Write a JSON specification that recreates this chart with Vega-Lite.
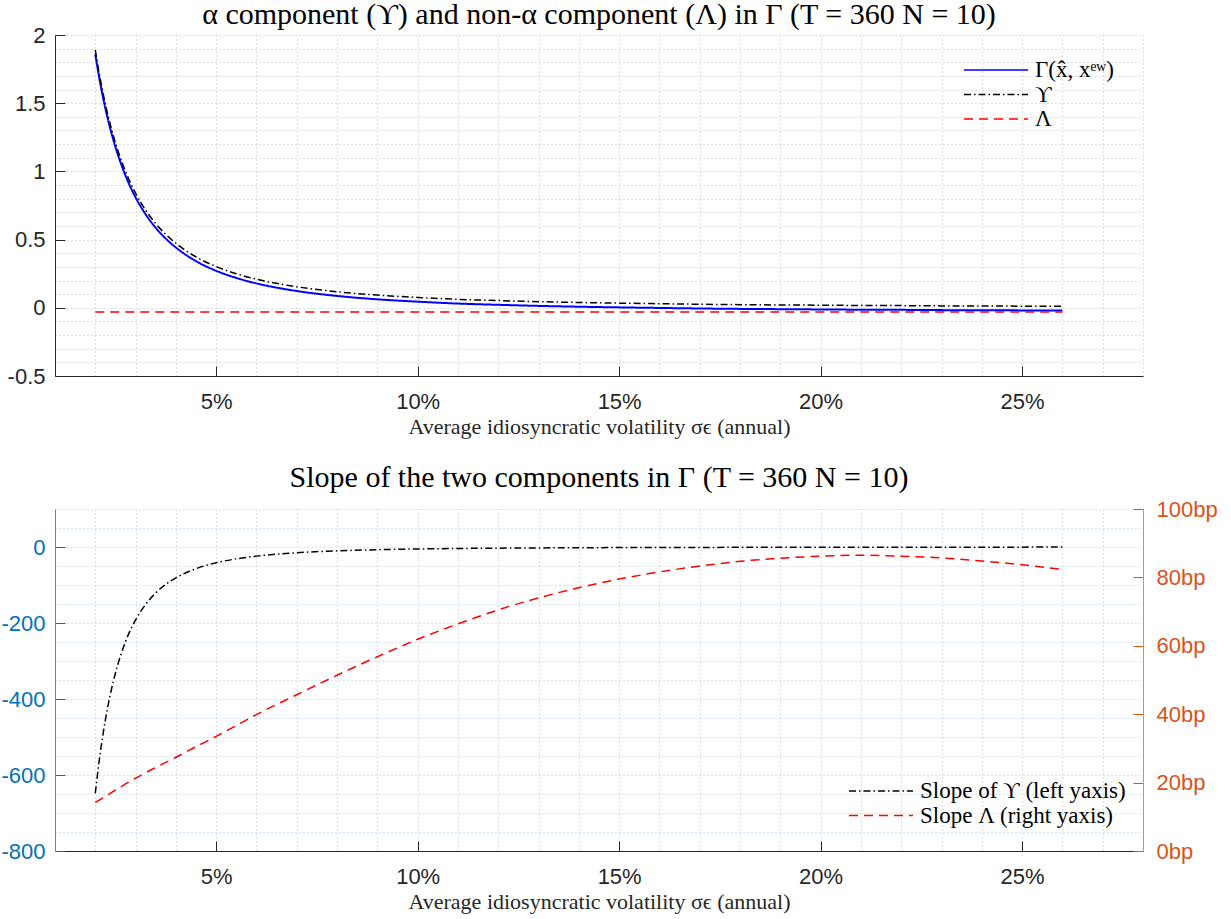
{
  "$schema": "https://vega.github.io/schema/vega-lite/v6.json",
  "background": "white",
  "padding": {"left": 0, "top": 0, "right": 5, "bottom": 5},
  "autosize": {"type": "pad"},
  "config": {
    "view": {"stroke": null},
    "title": {"font": "Liberation Serif", "fontSize": 30, "fontWeight": "normal", "color": "#000000", "anchor": "middle", "offset": 5},
    "axis": {"labelFont": "Liberation Sans", "labelFontSize": 22, "titleFont": "Liberation Serif", "titleFontSize": 22, "titleFontWeight": "normal", "titleColor": "#262626", "labelOverlap": false, "labelFlush": false},
    "legend": {"labelFont": "Liberation Serif", "labelFontSize": 23, "labelColor": "#000000", "labelLimit": 400, "symbolType": "stroke", "symbolStrokeWidth": 1.5, "padding": 0, "rowPadding": 1.5, "labelOffset": 6, "clipHeight": 20}
  },
  "datasets": {
    "d": [
      {"s": 2, "gamma": 1.859, "upsilon": 1.890, "lambda": -0.031, "slopeU": -648, "slopeL": 14.2},
      {"s": 2.1, "gamma": 1.683, "upsilon": 1.714, "lambda": -0.031, "slopeU": -560, "slopeL": 14.9},
      {"s": 2.2, "gamma": 1.531, "upsilon": 1.562, "lambda": -0.031, "slopeU": -487, "slopeL": 15.6},
      {"s": 2.3, "gamma": 1.398, "upsilon": 1.429, "lambda": -0.031, "slopeU": -426, "slopeL": 16.3},
      {"s": 2.4, "gamma": 1.282, "upsilon": 1.313, "lambda": -0.031, "slopeU": -375, "slopeL": 17.1},
      {"s": 2.5, "gamma": 1.179, "upsilon": 1.210, "lambda": -0.031, "slopeU": -332, "slopeL": 17.8},
      {"s": 2.75, "gamma": 0.969, "upsilon": 1.000, "lambda": -0.031, "slopeU": -249, "slopeL": 19.6},
      {"s": 3, "gamma": 0.809, "upsilon": 0.840, "lambda": -0.031, "slopeU": -192, "slopeL": 21.3},
      {"s": 3.25, "gamma": 0.685, "upsilon": 0.716, "lambda": -0.031, "slopeU": -151, "slopeL": 22.9},
      {"s": 3.5, "gamma": 0.586, "upsilon": 0.617, "lambda": -0.031, "slopeU": -121, "slopeL": 24.4},
      {"s": 3.75, "gamma": 0.507, "upsilon": 0.538, "lambda": -0.031, "slopeU": -98, "slopeL": 25.9},
      {"s": 4, "gamma": 0.442, "upsilon": 0.473, "lambda": -0.031, "slopeU": -81, "slopeL": 27.4},
      {"s": 4.5, "gamma": 0.342, "upsilon": 0.373, "lambda": -0.031, "slopeU": -57, "slopeL": 30.5},
      {"s": 5, "gamma": 0.271, "upsilon": 0.302, "lambda": -0.031, "slopeU": -41.5, "slopeL": 33.5},
      {"s": 5.5, "gamma": 0.219, "upsilon": 0.250, "lambda": -0.031, "slopeU": -31.2, "slopeL": 36.7},
      {"s": 6, "gamma": 0.179, "upsilon": 0.210, "lambda": -0.031, "slopeU": -24, "slopeL": 39.9},
      {"s": 7, "gamma": 0.123, "upsilon": 0.154, "lambda": -0.031, "slopeU": -15.1, "slopeL": 45.7},
      {"s": 8, "gamma": 0.087, "upsilon": 0.118, "lambda": -0.031, "slopeU": -10.1, "slopeL": 51.4},
      {"s": 9, "gamma": 0.062, "upsilon": 0.093, "lambda": -0.031, "slopeU": -7.1, "slopeL": 56.8},
      {"s": 10, "gamma": 0.045, "upsilon": 0.076, "lambda": -0.031, "slopeU": -5.2, "slopeL": 61.9},
      {"s": 11, "gamma": 0.031, "upsilon": 0.062, "lambda": -0.031, "slopeU": -3.9, "slopeL": 66.4},
      {"s": 12, "gamma": 0.022, "upsilon": 0.053, "lambda": -0.031, "slopeU": -3.0, "slopeL": 70.5},
      {"s": 13, "gamma": 0.014, "upsilon": 0.045, "lambda": -0.031, "slopeU": -2.4, "slopeL": 74.0},
      {"s": 14, "gamma": 0.008, "upsilon": 0.039, "lambda": -0.031, "slopeU": -1.9, "slopeL": 77.0},
      {"s": 15, "gamma": 0.003, "upsilon": 0.034, "lambda": -0.031, "slopeU": -1.5, "slopeL": 79.5},
      {"s": 16, "gamma": -0.001, "upsilon": 0.030, "lambda": -0.031, "slopeU": -1.3, "slopeL": 81.6},
      {"s": 17, "gamma": -0.005, "upsilon": 0.026, "lambda": -0.031, "slopeU": -1.1, "slopeL": 83.3},
      {"s": 18, "gamma": -0.008, "upsilon": 0.023, "lambda": -0.031, "slopeU": -0.9, "slopeL": 84.7},
      {"s": 19, "gamma": -0.010, "upsilon": 0.021, "lambda": -0.031, "slopeU": -0.8, "slopeL": 85.6},
      {"s": 20, "gamma": -0.012, "upsilon": 0.019, "lambda": -0.031, "slopeU": -0.65, "slopeL": 86.2},
      {"s": 21, "gamma": -0.014, "upsilon": 0.017, "lambda": -0.031, "slopeU": -0.56, "slopeL": 86.5},
      {"s": 22, "gamma": -0.015, "upsilon": 0.016, "lambda": -0.031, "slopeU": -0.49, "slopeL": 86.2},
      {"s": 23, "gamma": -0.017, "upsilon": 0.014, "lambda": -0.031, "slopeU": -0.43, "slopeL": 85.7},
      {"s": 24, "gamma": -0.018, "upsilon": 0.013, "lambda": -0.031, "slopeU": -0.38, "slopeL": 84.8},
      {"s": 25, "gamma": -0.019, "upsilon": 0.012, "lambda": -0.031, "slopeU": -0.33, "slopeL": 83.7},
      {"s": 26, "gamma": -0.020, "upsilon": 0.011, "lambda": -0.031, "slopeU": -0.29, "slopeL": 82.3}
    ]
  },
  "resolve": {"scale": {"color": "independent", "strokeDash": "independent", "x": "independent"}},
  "spacing": 26,
  "vconcat": [
    {
      "width": 1088,
      "height": 341,
      "title": {"text": "α component (ϒ) and non-α component (Λ) in Γ (T = 360 N = 10)", "offset": -6},
      "data": {"name": "d"},
      "encoding": {
        "x": {
          "field": "s", "type": "quantitative",
          "scale": {"domain": [1, 28], "nice": false, "zero": false},
          "axis": {
            "title": "Average idiosyncratic volatility σϵ (annual)",
            "values": [1,2,3,4,5,6,7,8,9,10,11,12,13,14,15,16,17,18,19,20,21,22,23,24,25,26,27,28],
            "labelExpr": "datum.value % 5 === 0 ? datum.value + '%' : ''",
            "labelOverlap": false,
            "grid": true, "gridColor": "#bdbdbd", "gridDash": [1, 3],
            "tickSize": -10, "tickColor": "#262626",
            "tickOpacity": {"condition": {"test": "datum.value % 5 === 0", "value": 1}, "value": 0},
            "domainColor": "#262626", "labelColor": "#262626", "labelPadding": 25, "titlePadding": 4
          }
        }
      },
      "resolve": {"axis": {"y": "independent"}},
      "layer": [
        {
          "mark": {"type": "line", "opacity": 0},
          "encoding": {
            "y": {
              "field": "upsilon", "type": "quantitative",
              "scale": {"domain": [-0.5, 2], "nice": false, "zero": false},
              "axis": {
                "title": null, "orient": "left",
                "values": [-0.5,-0.4,-0.3,-0.2,-0.1,0,0.1,0.2,0.3,0.4,0.5,0.6,0.7,0.8,0.9,1,1.1,1.2,1.3,1.4,1.5,1.6,1.7,1.8,1.9,2],
                "labels": false, "ticks": false, "domain": false,
                "grid": true, "gridColor": "#bdbdbd", "gridDash": [1, 3]
              }
            }
          }
        },
        {
          "mark": {"type": "line", "strokeWidth": 2, "interpolate": "monotone"},
          "encoding": {
            "y": {
              "field": "gamma", "type": "quantitative",
              "axis": {
                "title": null, "orient": "left",
                "values": [-0.5, 0, 0.5, 1, 1.5, 2],
                "labelExpr": "'' + datum.value",
                "labelOverlap": false,
                "grid": false,
                "tickSize": -10, "tickColor": "#262626",
                "domainColor": "#262626", "labelColor": "#262626", "labelPadding": 20
              }
            },
            "color": {
              "datum": "Γ(x̂, xᵉʷ)",
              "scale": {"domain": ["Γ(x̂, xᵉʷ)", "ϒ", "Λ"], "range": ["#0000ff", "#000000", "#ff0000"]},
              "legend": {"title": null, "orient": "none", "legendX": 908, "legendY": 25, "symbolSize": 4096}
            },
            "strokeDash": {
              "datum": "Γ(x̂, xᵉʷ)",
              "scale": {"domain": ["Γ(x̂, xᵉʷ)", "ϒ", "Λ"], "range": [[1, 0], [7, 3, 1.5, 3], [9, 6]]},
              "legend": {"title": null, "orient": "none", "legendX": 908, "legendY": 25, "symbolSize": 4096}
            }
          }
        },
        {
          "mark": {"type": "line", "strokeWidth": 1.5, "interpolate": "monotone"},
          "encoding": {
            "y": {"field": "upsilon", "type": "quantitative", "axis": null},
            "color": {"datum": "ϒ"},
            "strokeDash": {"datum": "ϒ"}
          }
        },
        {
          "mark": {"type": "line", "strokeWidth": 1.5},
          "encoding": {
            "y": {"field": "lambda", "type": "quantitative", "axis": null},
            "color": {"datum": "Λ"},
            "strokeDash": {"datum": "Λ"}
          }
        }
      ]
    },
    {
      "width": 1088,
      "height": 342,
      "title": {"text": "Slope of the two components in Γ (T = 360 N = 10)"},
      "data": {"name": "d"},
      "encoding": {
        "x": {
          "field": "s", "type": "quantitative",
          "scale": {"domain": [1, 28], "nice": false, "zero": false},
          "axis": {
            "title": "Average idiosyncratic volatility σϵ (annual)",
            "values": [1,2,3,4,5,6,7,8,9,10,11,12,13,14,15,16,17,18,19,20,21,22,23,24,25,26,27,28],
            "labelExpr": "datum.value % 5 === 0 ? datum.value + '%' : ''",
            "labelOverlap": false,
            "grid": true, "gridColor": "#bdbdbd", "gridDash": [1, 3],
            "tickSize": -10, "tickColor": "#262626",
            "tickOpacity": {"condition": {"test": "datum.value % 5 === 0", "value": 1}, "value": 0},
            "domainColor": "#262626", "labelColor": "#262626", "labelPadding": 25, "titlePadding": 4
          }
        }
      },
      "resolve": {"scale": {"y": "independent"}},
      "layer": [
        {
          "mark": {"type": "line", "strokeWidth": 1.5, "interpolate": "monotone"},
          "encoding": {
            "y": {
              "field": "slopeU", "type": "quantitative",
              "scale": {"domain": [-800, 100], "nice": false, "zero": false},
              "axis": {
                "title": null, "orient": "left",
                "values": [-800,-750,-700,-650,-600,-550,-500,-450,-400,-350,-300,-250,-200,-150,-100,-50,0,50,100],
                "labelExpr": "datum.value % 200 === 0 ? '' + datum.value : ''",
                "labelOverlap": false,
                "grid": true, "gridColor": "#a9c8e6", "gridDash": [1, 3],
                "tickSize": -10, "tickColor": "#0072BD",
                "tickOpacity": {"condition": {"test": "datum.value % 200 === 0", "value": 1}, "value": 0},
                "domainColor": "#3d8fd1", "labelColor": "#0072BD", "labelPadding": 20
              }
            },
            "color": {
              "datum": "Slope of ϒ (left yaxis)",
              "scale": {"domain": ["Slope of ϒ (left yaxis)", "Slope Λ (right yaxis)"], "range": ["#000000", "#ff0000"]},
              "legend": {"title": null, "orient": "none", "legendX": 793, "legendY": 272, "symbolSize": 4096}
            },
            "strokeDash": {
              "datum": "Slope of ϒ (left yaxis)",
              "scale": {"domain": ["Slope of ϒ (left yaxis)", "Slope Λ (right yaxis)"], "range": [[7, 3, 1.5, 3], [9, 6]]},
              "legend": {"title": null, "orient": "none", "legendX": 793, "legendY": 272, "symbolSize": 4096}
            }
          }
        },
        {
          "mark": {"type": "line", "strokeWidth": 1.5, "interpolate": "monotone"},
          "encoding": {
            "y": {
              "field": "slopeL", "type": "quantitative",
              "scale": {"domain": [0, 100], "nice": false, "zero": false},
              "axis": {
                "title": null, "orient": "right",
                "values": [0, 20, 40, 60, 80, 100],
                "labelExpr": "datum.value + 'bp'",
                "labelOverlap": false,
                "grid": false,
                "tickSize": -10, "tickColor": "#D95319",
                "domainColor": "#e08a55", "labelColor": "#D95319", "labelPadding": 23
              }
            },
            "color": {"datum": "Slope Λ (right yaxis)"},
            "strokeDash": {"datum": "Slope Λ (right yaxis)"}
          }
        }
      ]
    }
  ]
}
